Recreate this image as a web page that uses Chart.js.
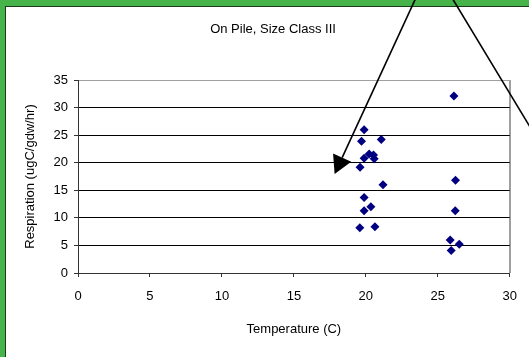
<!DOCTYPE html>
<html>
<head>
<meta charset="utf-8">
<script src="https://cdn.jsdelivr.net/npm/chart.js@4/dist/chart.umd.min.js"></script>
<style>
  html, body { margin: 0; padding: 0; background: #fff; }
  canvas { display: block; }
</style>
</head>
<body>
<canvas id="c" width="529" height="357"></canvas>
<script>
// Temperature (C) of each sample
const temperature = [
  26.12, 19.88, 19.70, 21.07, 20.23, 19.88, 20.53, 20.58, 19.60, 21.19,
  26.23, 19.88, 20.35, 19.88, 26.21, 19.58, 20.63, 25.86, 26.49, 25.93
];
// Respiration (ugC/gdw/hr) of each sample
const respiration = [
  32.1, 26.0, 23.9, 24.2, 21.6, 20.8, 21.4, 20.7, 19.2, 16.0,
  16.8, 13.7, 12.0, 11.3, 11.3, 8.2, 8.4, 6.0, 5.2, 4.1
];
// Axis ranges and tick step
const xRange = [0, 30];
const yRange = [0, 35];
const tickStep = 5;

// Callout arrows, in data units: [fromX, fromY, toX, toY, arrowhead?]
const arrows = [
  [23.85, 52, 17.83, 17.95, true],
  [25.5, 52, 32.45, 22, false]
];

const FONT = 'Liberation Sans, Arial, sans-serif';

const framePlugin = {
  id: 'frame',
  beforeDraw(chart) {
    const ctx = chart.ctx;
    const W = chart.width, H = chart.height;
    ctx.save();
    ctx.fillStyle = '#ffffff';
    ctx.fillRect(0, 0, W, H);
    ctx.fillStyle = '#46b44a';
    ctx.fillRect(0, 0, W, 6);
    ctx.fillRect(0, 0, 5, H);
    ctx.fillStyle = '#1c3a1c';
    ctx.fillRect(5, 6, W - 5, 1);
    ctx.fillRect(5, 6, 1, H - 6);
    ctx.restore();
  },
  beforeDatasetsDraw(chart) {
    // right edge of the plot area
    const { ctx, chartArea: a } = chart;
    ctx.save();
    ctx.strokeStyle = '#a0a0a0';
    ctx.lineWidth = 1;
    ctx.beginPath();
    ctx.moveTo(Math.round(a.right) + 0.5, a.top);
    ctx.lineTo(Math.round(a.right) + 0.5, a.bottom);
    ctx.stroke();
    ctx.restore();
  },
  afterDraw(chart) {
    const ctx = chart.ctx;
    ctx.save();
    // chart heading
    ctx.fillStyle = '#000';
    ctx.font = '13px ' + FONT;
    ctx.textAlign = 'center';
    ctx.textBaseline = 'middle';
    ctx.fillText('On Pile, Size Class III', 273, 29);

    // callout arrows
    const xs = chart.scales.x, ys = chart.scales.y;
    ctx.strokeStyle = '#000';
    ctx.fillStyle = '#000';
    ctx.lineWidth = 1.6;
    arrows.forEach(([x0, y0, x1, y1, head]) => {
      const px0 = xs.getPixelForValue(x0), py0 = ys.getPixelForValue(y0);
      const px1 = xs.getPixelForValue(x1), py1 = ys.getPixelForValue(y1);
      const dx = px1 - px0, dy = py1 - py0;
      const len = Math.hypot(dx, dy);
      const ux = dx / len, uy = dy / len;
      const headLen = head ? 18 : 0;
      ctx.beginPath();
      ctx.moveTo(px0, py0);
      ctx.lineTo(px1 - ux * headLen, py1 - uy * headLen);
      ctx.stroke();
      if (head) {
        const bx = px1 - ux * headLen, by = py1 - uy * headLen;
        const hw = 10;
        ctx.beginPath();
        ctx.moveTo(px1, py1);
        ctx.lineTo(bx - uy * hw, by + ux * hw);
        ctx.lineTo(bx + uy * hw, by - ux * hw);
        ctx.closePath();
        ctx.fill();
      }
    });
    ctx.restore();
  }
};

new Chart(document.getElementById('c'), {
  type: 'scatter',
  data: {
    datasets: [{
      data: temperature.map((t, i) => ({ x: t, y: respiration[i] })),
      pointStyle: 'rectRot',
      pointRadius: 4.5,
      pointBackgroundColor: '#000080',
      pointBorderColor: '#000080',
      pointBorderWidth: 0
    }]
  },
  options: {
    responsive: false,
    animation: false,
    devicePixelRatio: 1,
    layout: { padding: { left: 6, top: 80, right: 17, bottom: 0 } },
    plugins: {
      legend: { display: false },
      tooltip: { enabled: false },
      title: { display: false }
    },
    scales: {
      x: {
        type: 'linear',
        position: 'bottom',
        min: xRange[0],
        max: xRange[1],
        ticks: { stepSize: tickStep, color: '#000', font: { family: FONT, size: 13 }, padding: 12, maxRotation: 0 },
        grid: {
          color: c => (c.tick && c.tick.value === xRange[1]) ? '#a0a0a0' : 'rgba(0,0,0,0)',
          tickColor: '#333',
          tickLength: 4,
          lineWidth: 1
        },
        border: { color: '#333', width: 1 },
        title: { display: true, text: 'Temperature (C)', color: '#000', font: { family: FONT, size: 13 }, padding: { top: 0, bottom: 20 } },
        afterFit: s => { s.height = 84; }
      },
      y: {
        type: 'linear',
        min: yRange[0],
        max: yRange[1],
        ticks: { stepSize: tickStep, color: '#000', font: { family: FONT, size: 13 }, padding: 6 },
        grid: {
          color: c => (c.tick && c.tick.value === yRange[1]) ? '#a0a0a0' : '#000',
          tickColor: '#333',
          tickLength: 4,
          lineWidth: 1
        },
        border: { color: '#333', width: 1 },
        title: { display: true, text: 'Respiration (ugC/gdw/hr)', color: '#000', font: { family: FONT, size: 13 }, padding: { top: 17, bottom: 0 } },
        afterFit: s => { s.width = 72; }
      }
    }
  },
  plugins: [framePlugin]
});
</script>
</body>
</html>
